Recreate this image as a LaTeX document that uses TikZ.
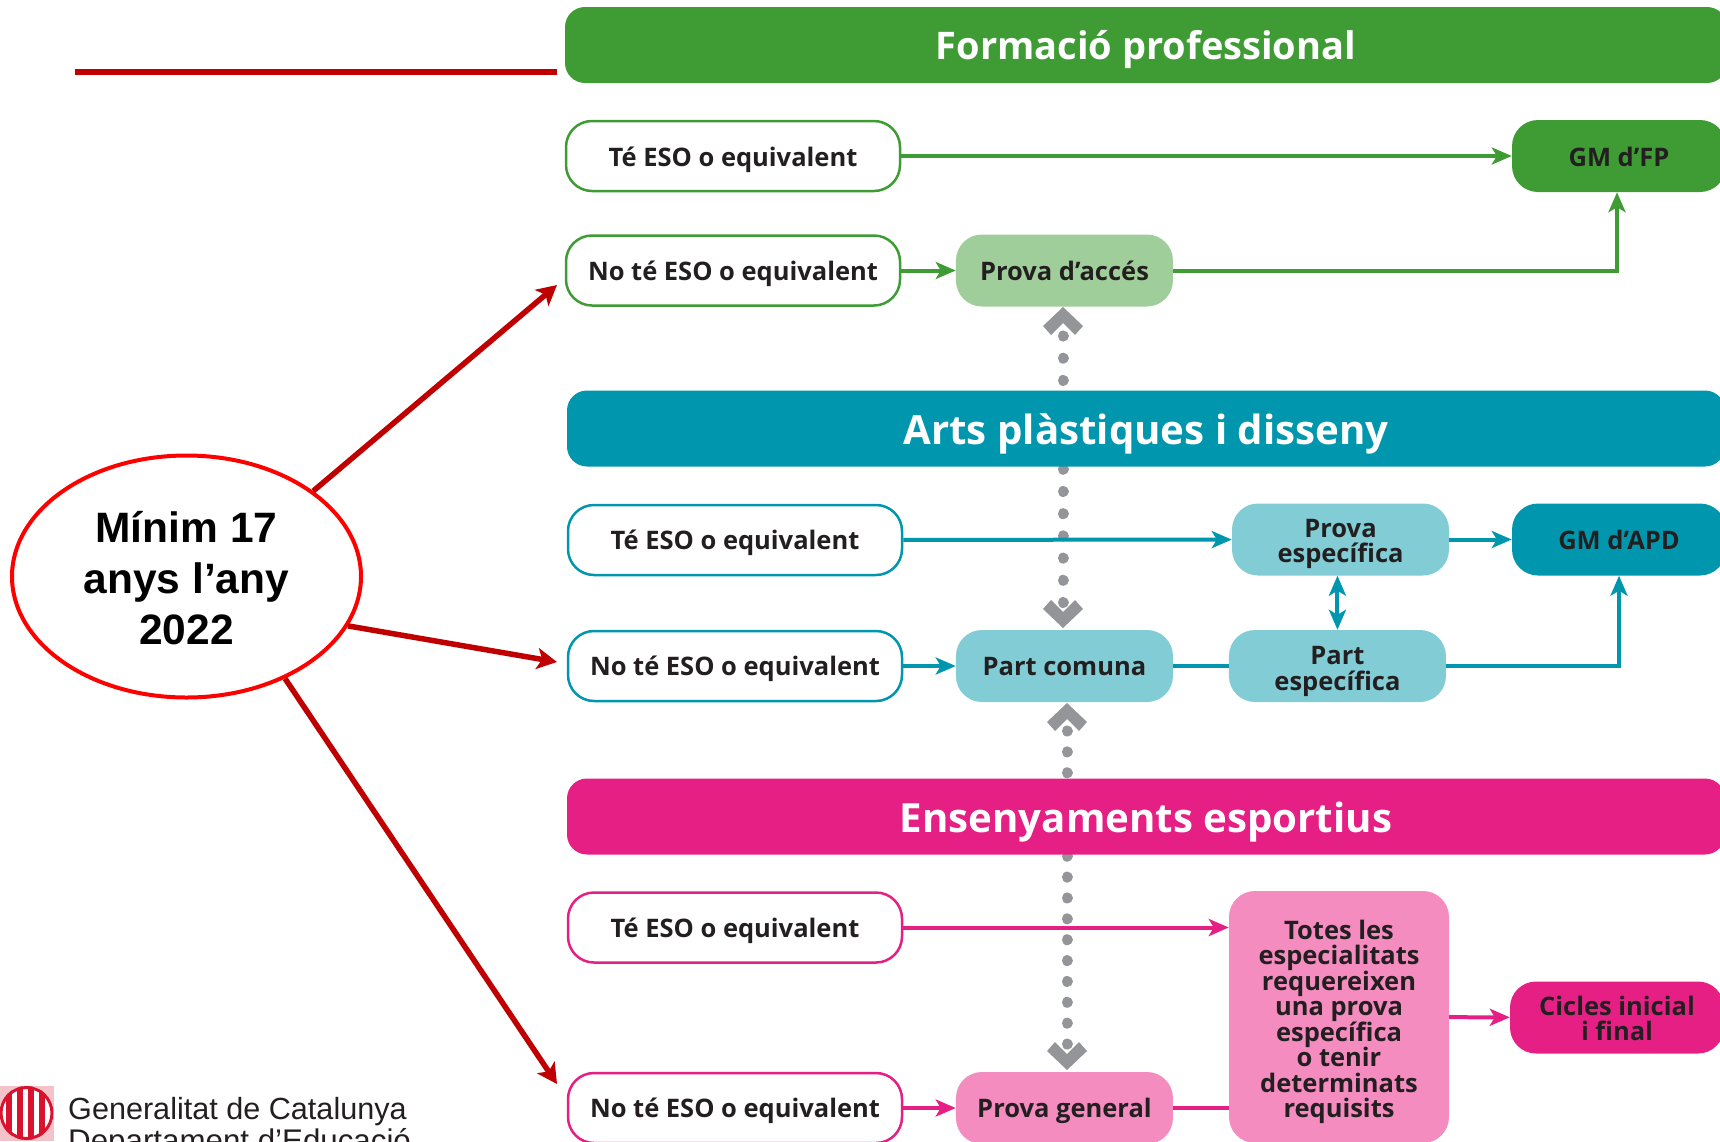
\documentclass[tikz,border=0pt]{standalone}
\usepackage{fontspec}
\setmainfont{Open Sans}
\newfontfamily\arialfont{Liberation Sans}
\usetikzlibrary{shapes,arrows.meta,positioning}
\definecolor{fpgreen}{HTML}{3F9C35}
\definecolor{fplight}{HTML}{A0CE9A}
\definecolor{apteal}{HTML}{0097AE}
\definecolor{aplight}{HTML}{82CCD5}
\definecolor{espink}{HTML}{E61F85}
\definecolor{eslight}{HTML}{F48CBF}
\definecolor{dotgrey}{HTML}{939598}
\definecolor{inkdark}{HTML}{231F20}
\definecolor{ovalred}{HTML}{FF0000}
\definecolor{arrowred}{HTML}{C00000}
\definecolor{logored}{HTML}{D9132E}
\definecolor{logopale}{HTML}{F4C3CA}
\lineskiplimit=-20pt
\def\Low#1{\rule{0pt}{#1pt}}
\tikzset{
	banner/.style={rounded corners=20pt,minimum width=1158pt,minimum height=76pt,text=white},
	outline/.style={rounded corners=26pt,draw=#1,fill=white,line width=2.5pt,minimum width=334pt,minimum height=70pt},
	midbox/.style={rounded corners=26pt,fill=#1,minimum width=217pt,minimum height=72pt},
	endbox/.style={rounded corners=26pt,fill=#1,minimum width=214pt,minimum height=72pt},
	link/.style={draw=#1,line width=4pt},
	redlink/.style={draw=arrowred,line width=5.5pt,>={Stealth[length=20pt,width=21pt,inset=5pt]}},
	chevup/.pic={\fill[dotgrey] (0,0)--(20,19)--(12,28)--(0,16)--(-12,28)--(-20,19)--cycle;},
	dotline/.style={draw=dotgrey,line width=11pt,line cap=round,dash pattern=on 0.01pt off #1}
}
\begin{document}
\begin{tikzpicture}[% everything is measured in pixels of the picture
		x=1pt,y=-1pt,
		every node/.style={align=center,inner sep=0pt,text=inkdark,font=\fontsize{25.5}{25.5}\selectfont\bfseries},
		>={Stealth[length=20pt,width=17pt,inset=5pt]}
	]
	\useasboundingbox (0,0) rectangle (1720,1141);
	\clip (0,0) rectangle (1720,1141);

	% grey dotted links, behind the rest
	\coordinate (D1)at(1063,336);
	\coordinate (D2)at(1063,603);
	\coordinate (D3)at(1067,731);
	\coordinate (D4)at(1067,1045);
	\path[dotline=22.2pt] (D1)--(D2);
	\path[dotline=20.86pt] (D3)--(D4);
	\pic at (1063,307) {chevup};
	\pic[yscale=-1] at (1063,628) {chevup};
	\pic at (1067,703) {chevup};
	\pic[yscale=-1] at (1067,1070) {chevup};

	% Formacio professional
	\node[banner,minimum width=1162pt,fill=fpgreen,font=\fontsize{38}{40}\selectfont\bfseries,text depth=8pt,text height=36pt](F0) at (1146,45){Formació professional};
	\node[outline=fpgreen,text height=24pt,text depth=4pt](F1) at (733,156){Té ESO o equivalent};
	\node[outline=fpgreen,text height=24pt,text depth=4pt](F2) at (733,270.5){No té ESO o equivalent};
	\node[midbox=fplight](F3)[right=54.5pt of F2]{Prova d’accés};
	\node[endbox=fpgreen,text height=26pt,text depth=6pt](F4) at (1619,156){GM d’FP};
	\path[link=fpgreen]
	(F1)edge[->] (F4)
	(F2)edge[->] (F3)
	;
	\draw[link=fpgreen,->] (F3.east)-|([xshift=-2pt]F4.south);

	% Arts plastiques i disseny
	\node[banner,fill=apteal,font=\fontsize{40.2}{42}\selectfont\bfseries,text depth=8pt,text height=40pt](A0) at (1146,428.5){Arts plàstiques i disseny};
	\node[outline=apteal,text height=23pt,text depth=4pt](A1) at (735,540){Té ESO o equivalent};
	\node[outline=apteal,text height=23pt,text depth=4pt](A2) at (735,666){No té ESO o equivalent};
	\node[midbox=aplight,text height=22pt,text depth=4pt](A3)[right=52.5pt of A2]{Part comuna};
	\node[midbox=aplight](A4)[right=55.6pt of A3]{\Low{29}Part\\específica};
	\node[midbox=aplight](A5) at (1340.5,539.5){\Low{27}Prova\\específica};
	\node[endbox=apteal,text height=26pt,text depth=6pt](A6) at (1619,539.5){GM d’APD};
	\path[link=apteal]
	(A1)edge[->] (A5)
	(A5)edge[->] (A6)
	(A2)edge[->] (A3)
	(A3)edge[] (A4)
	;
	\draw[link=apteal,<->] (A4.north|-A5.south)--(A4.north);
	\draw[link=apteal,->] (A4.east)-|(A6.south);

	% Ensenyaments esportius
	\node[banner,fill=espink,font=\fontsize{40.2}{42}\selectfont\bfseries,text depth=8pt,text height=39pt](E0) at (1146,816.5){Ensenyaments esportius};
	\node[outline=espink,text height=23pt,text depth=4pt](E1) at (735,927.5){Té ESO o equivalent};
	\node[outline=espink,text height=23pt,text depth=4pt](E2) at (735,1108){No té ESO o equivalent};
	\node[midbox=eslight,text height=26pt,text depth=8pt](E3)[right=52.5pt of E2]{Prova general};
	\node[midbox=eslight,minimum width=220pt,minimum height=252pt](E4) at (1339,1017){\Low{29}Totes les\\especialitats\\requereixen\\una prova\\específica\\o tenir\\determinats\\requisits};
	\node[endbox=espink](E5) at (1617,1017.5){\Low{21}Cicles inicial\\i final};
	\draw[link=espink,->] (E1)--(E1-|E4.west);
	\draw[link=espink] (E3)--(E3-|E4.west);
	\path[link=espink]
	(E2)edge[->] (E3)
	(E4)edge[->] (E5)
	;

	% red oval and its arrows
	\node[ellipse,draw=ovalred,line width=4pt,fill=white,minimum width=349pt,minimum height=242pt,font=\arialfont\fontsize{42.5}{51}\selectfont\bfseries,text=black](O1) at (186.5,576.5){\Low{35}Mínim 17\\anys l’any\\2022};
	\coordinate (T1)at(557,285);
	\coordinate (T2)at(557,662);
	\coordinate (T3)at(557,1084);
	\draw[redlink,->] (O1.34.6)--(T1);
	\draw[redlink,->] (O1.-17.5)--(T2);
	\draw[redlink,->] (O1.-46.1)--(T3);
	\coordinate (L1)at(75,72.3);
	\coordinate (L2)at(557,72.3);
	\draw[draw=arrowred,line width=6pt] (L1)--(L2);

	% logo, bottom left
	\fill[logopale] (0,1086) rectangle (54,1141);
	\begin{scope}
		\clip (26.5,1113) circle (27);
		\fill[white] (-1,1086) rectangle (54,1141);
		\foreach \barx in {6,17,28,39}
			\fill[logored] (\barx,1086) rectangle (\barx+6,1141);
	\end{scope}
	\draw[logored,line width=3pt] (26.5,1113) circle (25.5);
	\node[font=\arialfont\fontsize{30.6}{32}\selectfont,anchor=base west](G1) at (68,1119){Generalitat de Catalunya};
	\node[font=\arialfont\fontsize{31.3}{32}\selectfont,anchor=base west](G2) at (68,1151){Departament d’Educació};
\end{tikzpicture}
\end{document}
